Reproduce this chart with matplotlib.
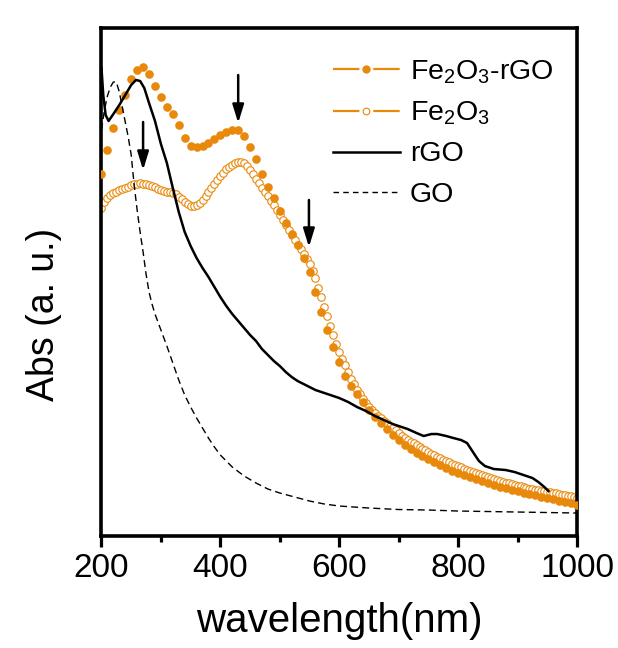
import numpy as np
import matplotlib
matplotlib.use("Agg")
import matplotlib.pyplot as plt
from matplotlib.lines import Line2D

plt.rcParams['font.family'] = ['Liberation Sans', 'DejaVu Sans']
plt.rcParams['mathtext.fontset'] = 'custom'
plt.rcParams['mathtext.rm'] = 'Liberation Sans'
plt.rcParams['mathtext.it'] = 'Liberation Sans'
plt.rcParams['lines.scale_dashes'] = False

ORANGE = '#E8890C'

# Fe2O3-rGO, every 10 nm from 200 to 1000
wl_frgo = np.arange(200, 1001, 10)
abs_frgo = [3.66, 3.90, 4.12, 4.30, 4.45, 4.61, 4.70, 4.73, 4.66, 4.54,
            4.43, 4.33, 4.26, 4.15, 4.02, 3.94, 3.93, 3.94, 3.97, 4.01,
            4.05, 4.08, 4.10, 4.10, 4.04, 3.93, 3.81, 3.66, 3.53, 3.42,
            3.29, 3.17, 3.06, 2.95, 2.82, 2.68, 2.48, 2.28, 2.10, 1.93,
            1.78, 1.64, 1.54, 1.46, 1.38, 1.30, 1.23, 1.17, 1.11, 1.05,
            1.00, 0.95, 0.91, 0.875, 0.84, 0.81, 0.78, 0.75, 0.72, 0.695,
            0.67, 0.65, 0.63, 0.61, 0.59, 0.57, 0.55, 0.535, 0.52, 0.505,
            0.49, 0.475, 0.46, 0.45, 0.435, 0.42, 0.41, 0.395, 0.38, 0.37,
            0.35]

# Fe2O3, every 5 nm from 200 to 1000
wl_fe = np.arange(200, 1001, 5)
abs_fe = [3.32, 3.38, 3.42, 3.45, 3.47, 3.485, 3.50, 3.515, 3.525, 3.535,
          3.55, 3.56, 3.565, 3.57, 3.565, 3.56, 3.55, 3.54, 3.53, 3.515,
          3.50, 3.49, 3.485, 3.48, 3.475, 3.46, 3.435, 3.41, 3.38, 3.36,
          3.345, 3.34, 3.35, 3.37, 3.40, 3.44, 3.48, 3.52, 3.56, 3.60,
          3.64, 3.675, 3.71, 3.735, 3.755, 3.77, 3.78, 3.78, 3.77, 3.745,
          3.705, 3.66, 3.615, 3.57, 3.525, 3.485, 3.44, 3.395, 3.35, 3.30,
          3.255, 3.20, 3.15, 3.10, 3.05, 3.00, 2.955, 2.91, 2.86, 2.81,
          2.76, 2.69, 2.62, 2.525, 2.43, 2.335, 2.24, 2.145, 2.05, 1.965,
          1.88, 1.81, 1.75, 1.68, 1.615, 1.56, 1.505, 1.46, 1.415, 1.375,
          1.335, 1.305, 1.27, 1.245, 1.22, 1.195, 1.17, 1.145, 1.12, 1.10,
          1.075, 1.045, 1.02, 1.00, 0.985, 0.968, 0.95, 0.933, 0.915, 0.898,
          0.88, 0.865, 0.85, 0.835, 0.82, 0.805, 0.79, 0.778, 0.765, 0.753,
          0.74, 0.728, 0.715, 0.705, 0.695, 0.685, 0.675, 0.665, 0.655, 0.645,
          0.635, 0.625, 0.615, 0.605, 0.595, 0.585, 0.575, 0.568, 0.56, 0.553,
          0.545, 0.538, 0.53, 0.523, 0.515, 0.51, 0.505, 0.50, 0.495, 0.49,
          0.485, 0.48, 0.475, 0.468, 0.46, 0.455, 0.45, 0.445, 0.44, 0.433,
          0.425]

# rGO
wl_rgo = [200, 203, 207, 212, 220, 230, 240, 250, 258, 265, 272, 280, 290,
          300, 310, 320, 330, 340, 350, 360, 370, 380, 390, 400, 410, 420,
          430, 440, 450, 460, 470, 480, 490, 500, 510, 520, 530, 540, 550,
          560, 570, 580, 590, 600, 615, 630, 645, 660, 675, 690, 700, 715,
          730, 742, 755, 765, 780, 792, 805, 815, 826, 835, 845, 860, 880,
          895, 910, 925, 935, 945, 952]
abs_rgo = [4.72, 4.45, 4.25, 4.19, 4.26, 4.35, 4.45, 4.55, 4.60, 4.59, 4.52,
           4.37, 4.19, 3.96, 3.77, 3.52, 3.28, 3.08, 2.94, 2.82, 2.72, 2.63,
           2.53, 2.43, 2.34, 2.26, 2.19, 2.12, 2.05, 1.99, 1.91, 1.85, 1.79,
           1.74, 1.68, 1.63, 1.59, 1.56, 1.53, 1.50, 1.48, 1.46, 1.44, 1.42,
           1.38, 1.33, 1.29, 1.24, 1.20, 1.16, 1.14, 1.11, 1.07, 1.04, 1.06,
           1.06, 1.04, 1.02, 1.00, 0.97, 0.87, 0.79, 0.74, 0.71, 0.70, 0.68,
           0.65, 0.62, 0.58, 0.53, 0.49]

# GO
wl_go = [200, 205, 210, 215, 220, 225, 230, 235, 240, 245, 250, 255, 260,
         265, 270, 275, 280, 285, 290, 300, 310, 320, 330, 340, 350, 360,
         370, 380, 390, 400, 420, 440, 460, 480, 500, 525, 550, 575, 600,
         650, 700, 750, 800, 850, 900, 950, 1000]
abs_go = [4.10, 4.30, 4.44, 4.53, 4.58, 4.58, 4.48, 4.33, 4.18, 4.03, 3.85,
          3.55, 3.30, 3.08, 2.88, 2.66, 2.48, 2.36, 2.26, 2.10, 1.94, 1.77,
          1.60, 1.45, 1.33, 1.22, 1.12, 1.02, 0.93, 0.85, 0.73, 0.64, 0.57,
          0.51, 0.47, 0.43, 0.39, 0.36, 0.34, 0.32, 0.305, 0.30, 0.29, 0.285,
          0.28, 0.275, 0.27]

# arrows: wavelength, tail, tip
arrow_wl = [270, 430, 549]
arrow_tail = [4.18, 4.65, 3.40]
arrow_tip = [3.70, 4.17, 2.93]

fig = plt.figure(figsize=(6.18, 6.48), dpi=100)
ax = fig.add_axes([0.1642, 0.1728, 0.9337 - 0.1642, 0.9568 - 0.1728])

ax.plot(wl_fe, abs_fe, ls='none', marker='o', ms=5.4, mfc='white',
        mec=ORANGE, mew=0.8, zorder=2)
ax.plot(wl_frgo, abs_frgo, ls='none', marker='o', ms=6.2, mfc=ORANGE,
        mec=ORANGE, mew=0, zorder=3)
ax.plot(wl_rgo, abs_rgo, color='black', lw=1.8, zorder=4)
ax.plot(wl_go, abs_go, color='black', lw=1.0, ls=(0, (5, 3)), zorder=4)

for xw, yt, yp in zip(arrow_wl, arrow_tail, arrow_tip):
    ax.annotate('', xy=(xw, yp), xytext=(xw, yt),
                arrowprops=dict(arrowstyle='-|>,head_length=0.55,head_width=0.17',
                                color='black', lw=1.8, mutation_scale=20,
                                shrinkA=0, shrinkB=0), zorder=5)

ax.set_xlim(200, 1000)
ax.set_ylim(0.04, 5.12)
ax.set_yticks([])
ax.set_xticks([200, 400, 600, 800, 1000])
ax.set_xticks([300, 500, 700, 900], minor=True)
ax.tick_params(axis='x', which='major', direction='out', length=8, width=2.3,
               labelsize=24, pad=4)
ax.tick_params(axis='x', which='minor', direction='out', length=4.5, width=2.3)
for s in ax.spines.values():
    s.set_linewidth(2.6)

ax.set_xlabel('wavelength(nm)', fontsize=29, labelpad=13)
fig.text(44 / 618, 1 - 314 / 648, 'Abs (a. u.)', fontsize=27, rotation=90,
         ha='center', va='center')

dash_gap = (0, (19, 10))
handles = [
    Line2D([], [], color=ORANGE, lw=1.6, ls=dash_gap, marker='o', ms=6,
           mfc=ORANGE, mec=ORANGE, mew=0),
    Line2D([], [], color=ORANGE, lw=1.6, ls=dash_gap, marker='o', ms=4.8,
           mfc='white', mec=ORANGE, mew=0.8),
    Line2D([], [], color='black', lw=1.8),
    Line2D([], [], color='black', lw=1.0, ls=(0, (4, 3))),
]
labels = ['Fe$_2$O$_3$-rGO', 'Fe$_2$O$_3$', 'rGO', 'GO']
fig.legend(handles, labels, loc='upper left',
           bbox_to_anchor=(333 / 618, 1 - 58 / 648), frameon=False,
           fontsize=20.5, handlelength=2.35, handletextpad=0.35,
           labelspacing=0.5, borderpad=0, borderaxespad=0)

fig.savefig('out.png', dpi=100, facecolor='white')
